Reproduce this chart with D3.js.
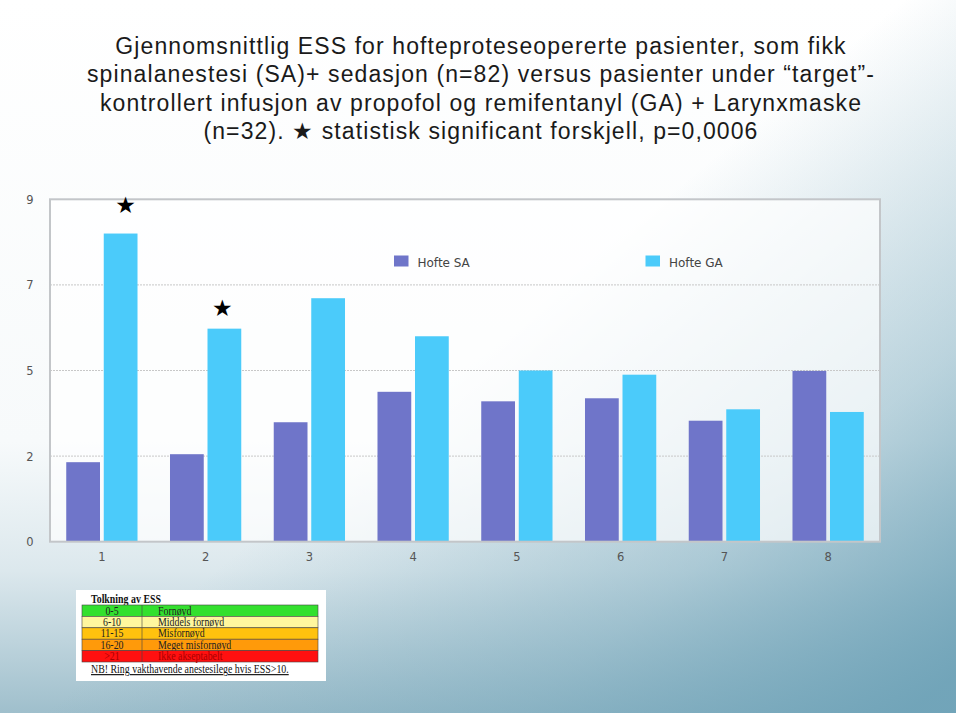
<!DOCTYPE html>
<html>
<head>
<meta charset="utf-8">
<script src="https://cdn.jsdelivr.net/npm/d3@7"></script>
<style>
  html, body { margin: 0; padding: 0; background: #ffffff; }
  svg { display: block; }
</style>
</head>
<body>
<svg id="chart" width="960" height="716"></svg>
<script>
// ---------------- DATA ----------------
const titleLines = [
  "Gjennomsnittlig ESS for hofteproteseopererte pasienter, som fikk",
  "spinalanestesi (SA)+ sedasjon (n=82) versus pasienter under \u201Ctarget\u201D-",
  "kontrollert infusjon av propofol og remifentanyl (GA) + Larynxmaske",
  "(n=32). \u2605 statistisk significant forskjell, p=0,0006"
];
const categories = ["1", "2", "3", "4", "5", "6", "7", "8"];
const seriesNames = ["Hofte SA", "Hofte GA"];
const hofteSA = [2.09, 2.30, 3.14, 3.94, 3.69, 3.77, 3.18, 4.49];
const hofteGA = [8.10, 5.60, 6.40, 5.40, 4.50, 4.39, 3.48, 3.41];
const yTickValues = [0, 2.25, 4.5, 6.75, 9];
const yTickLabels = ["0", "2", "5", "7", "9"];
const significantCategories = ["1", "2"];
const starLevels = [8.85, 6.15];

const essTableTitle = "Tolkning av ESS";
const essRanges = ["0-5", "6-10", "11-15", "16-20", ">21"];
const essMeanings = ["Fornøyd", "Middels fornøyd", "Misfornøyd", "Meget misfornøyd", "Ikke akseptabelt"];
const essNote = "NB! Ring vakthavende anestesilege hvis ESS>10.";

// ---------------- STYLE ----------------
const colors = { "Hofte SA": "#6f75c9", "Hofte GA": "#4bcbfa" };
const essColors = ["#33e02e", "#fff79e", "#ffc20e", "#ff9a0a", "#ff1010"];
const essTextColors = ["#222", "#222", "#222", "#222", "#a80000"];

const svg = d3.select("#chart");

// background
const defs = svg.append("defs");
const g1 = defs.append("linearGradient").attr("id", "bgv")
  .attr("x1", "0").attr("y1", "0").attr("x2", "0").attr("y2", "1");
g1.append("stop").attr("offset", "0").attr("stop-color", "#ffffff");
g1.append("stop").attr("offset", "0.62").attr("stop-color", "#f7fafb");
g1.append("stop").attr("offset", "0.8").attr("stop-color", "#dce8ed");
g1.append("stop").attr("offset", "1").attr("stop-color", "#9fbfcc");
const g2 = defs.append("linearGradient").attr("id", "bgd")
  .attr("x1", "0.45").attr("y1", "0.55").attr("x2", "0.95").attr("y2", "1");
g2.append("stop").attr("offset", "0").attr("stop-color", "#6fa3b8").attr("stop-opacity", 0);
g2.append("stop").attr("offset", "0.55").attr("stop-color", "#6fa3b8").attr("stop-opacity", 0.45);
g2.append("stop").attr("offset", "1").attr("stop-color", "#6fa3b8").attr("stop-opacity", 0.95);
svg.append("rect").attr("x", 0).attr("y", 0).attr("width", 956).attr("height", 713).attr("fill", "url(#bgv)");
svg.append("rect").attr("x", 0).attr("y", 0).attr("width", 956).attr("height", 713).attr("fill", "url(#bgd)");

// title
const title = svg.append("g").attr("font-family", "'Liberation Sans Narrow', 'Arial Narrow', 'Liberation Sans', sans-serif")
  .attr("font-size", 23).attr("fill", "#1a1a1a").attr("text-anchor", "middle")
  .attr("letter-spacing", "1.1px");
title.selectAll("text").data(titleLines).join("text")
  .attr("x", 481).attr("y", (d, i) => 54 + i * 28.3)
  .text(d => d);

// chart
const plot = { left: 50, right: 880, top: 199.3, bottom: 541.7 };
const x0 = d3.scaleBand().domain(categories).range([plot.left, plot.right]).paddingInner(0).paddingOuter(0);
const x1 = d3.scaleBand().domain(seriesNames).range([0, x0.bandwidth()]).paddingInner(0.1).paddingOuter(0.433);
const y = d3.scaleLinear().domain([0, 9]).range([plot.bottom, plot.top]);

const chartG = svg.append("g");
chartG.append("rect").attr("x", plot.left).attr("y", plot.top)
  .attr("width", plot.right - plot.left).attr("height", plot.bottom - plot.top)
  .attr("fill", "#ffffff").attr("fill-opacity", 0.7);

// grid lines
chartG.append("g").selectAll("line").data(yTickValues.slice(1, -1)).join("line")
  .attr("x1", plot.left).attr("x2", plot.right)
  .attr("y1", d => y(d)).attr("y2", d => y(d))
  .attr("stroke", "#c8c8c8").attr("stroke-width", 1).attr("stroke-dasharray", "2,1");

// y axis
const yAxis = d3.axisLeft(y).tickValues(yTickValues).tickSize(0).tickPadding(0)
  .tickFormat((d, i) => yTickLabels[i]);
const yg = chartG.append("g").attr("transform", "translate(30,0)").call(yAxis);
yg.select(".domain").remove();
yg.selectAll("text").attr("text-anchor", "middle").attr("font-family", "'DejaVu Sans', sans-serif")
  .attr("font-size", 11.5).attr("fill", "#555").attr("dy", "0.35em");

// x axis
const xAxis = d3.axisBottom(x0).tickSize(0).tickPadding(0);
const xg = chartG.append("g").attr("transform", `translate(0,${plot.bottom + 19.5})`).call(xAxis);
xg.select(".domain").remove();
xg.selectAll("text").attr("font-family", "'DejaVu Sans', sans-serif")
  .attr("font-size", 11.5).attr("fill", "#555").attr("dy", "0");

// bars
const tableData = categories.map((c, i) => ({ category: c, values: [
  { series: "Hofte SA", value: hofteSA[i] },
  { series: "Hofte GA", value: hofteGA[i] }
]}));
chartG.append("g").selectAll("g").data(tableData).join("g")
  .attr("transform", d => `translate(${x0(d.category)},0)`)
  .selectAll("rect").data(d => d.values).join("rect")
  .attr("x", d => x1(d.series)).attr("width", x1.bandwidth())
  .attr("y", d => y(d.value)).attr("height", d => y(0) - y(d.value))
  .attr("fill", d => colors[d.series]);

// frame
chartG.append("rect").attr("x", plot.left).attr("y", plot.top)
  .attr("width", plot.right - plot.left).attr("height", plot.bottom - plot.top)
  .attr("fill", "none").attr("stroke", "#c3c6c9").attr("stroke-width", 2);

// legend
const legendX = [394, 645.5];
const legend = chartG.append("g");
const li = legend.selectAll("g").data(seriesNames).join("g")
  .attr("transform", (d, i) => `translate(${legendX[i]},255.5)`);
li.append("rect").attr("width", 14.5).attr("height", 11).attr("fill", d => colors[d]);
li.append("text").attr("x", 23.5).attr("y", 11).attr("font-family", "'DejaVu Sans', sans-serif")
  .attr("font-size", 12).attr("fill", "#444").text(d => d);

// significance stars
chartG.append("g").selectAll("text").data(significantCategories).join("text")
  .attr("x", (d, i) => x0(d) + x1("Hofte GA") + x1.bandwidth() / 2 + (i === 0 ? 5 : -2))
  .attr("y", (d, i) => y(starLevels[i]))
  .attr("dy", "0.35em").attr("text-anchor", "middle")
  .attr("font-family", "'DejaVu Sans', sans-serif").attr("font-size", 23).attr("fill", "#000")
  .text("\u2605");

// ESS interpretation table
const sx = 0.86;
const tb = svg.append("g").attr("font-family", "'Liberation Serif', 'Times New Roman', serif").attr("font-size", 11.5);
tb.append("rect").attr("x", 76).attr("y", 590).attr("width", 250).attr("height", 91).attr("fill", "#ffffff");
tb.append("text").attr("transform", `translate(91,603) scale(${sx},1)`)
  .attr("font-weight", "bold").attr("fill", "#111").text(essTableTitle);
const rowY = d3.scaleBand().domain(d3.range(essRanges.length)).range([605, 662]);
const colX = { left: 82, mid: 142, right: 318 };
const rows = tb.selectAll("g.row").data(essRanges).join("g").attr("class", "row")
  .attr("transform", (d, i) => `translate(0,${rowY(i)})`);
rows.append("rect").attr("x", colX.left).attr("width", colX.right - colX.left)
  .attr("height", rowY.bandwidth()).attr("fill", (d, i) => essColors[i])
  .attr("stroke", "#444").attr("stroke-width", 0.6);
rows.append("line").attr("x1", colX.mid).attr("x2", colX.mid).attr("y1", 0).attr("y2", rowY.bandwidth())
  .attr("stroke", "#444").attr("stroke-width", 0.6);
rows.append("text")
  .attr("transform", `translate(${(colX.left + colX.mid) / 2},${rowY.bandwidth() - 1.8}) scale(${sx},1)`)
  .attr("text-anchor", "middle").attr("fill", (d, i) => essTextColors[i]).text(d => d);
rows.append("text")
  .attr("transform", `translate(158,${rowY.bandwidth() - 1.8}) scale(${sx},1)`)
  .attr("fill", (d, i) => essTextColors[i]).text((d, i) => essMeanings[i]);
tb.append("text").attr("transform", `translate(91,673) scale(${sx},1)`).attr("fill", "#111")
  .attr("text-decoration", "underline").text(essNote);
</script>
</body>
</html>
